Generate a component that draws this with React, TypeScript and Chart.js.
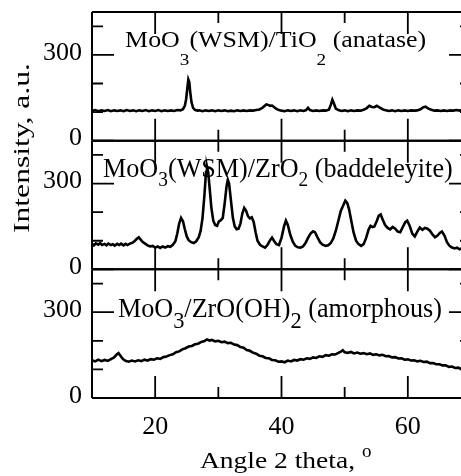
import React, { useEffect, useRef } from 'react';
import { Chart, registerables } from 'chart.js';

Chart.register(...registerables);

const FONT = '"Liberation Serif", "Times New Roman", serif';

// Axis ranges and ticks
const X_MIN = 10;
const X_MAX = 70;
const X_MAJOR = [20, 40, 60];
const X_MINOR = [30, 50];
const Y_MIN = 0;
const Y_MAX = 450;
const Y_MAJOR = [0, 300];
const Y_MINOR = [100, 200, 400];

// [2 theta, intensity]
const ANATASE: [number, number][] = [
  [10, 104], [10.5, 107], [11, 103], [11.5, 106], [12, 104], [12.5, 107], [13, 103], [13.5, 106], [14, 104], [14.5, 106],
  [15, 103], [15.5, 107], [16, 104], [16.5, 106], [17, 103], [17.5, 106], [18, 104], [18.5, 107], [19, 103], [19.5, 106],
  [20, 104], [20.5, 107], [21, 103], [21.5, 106], [22, 104], [22.5, 106], [23, 104], [23.5, 107], [24, 106], [24.4, 110],
  [24.7, 122], [24.9, 145], [25.1, 185], [25.25, 214], [25.4, 205], [25.55, 170], [25.75, 135], [26, 115], [26.3, 108], [26.7, 105],
  [27, 106], [27.5, 103], [28, 106], [28.5, 104], [29, 106], [29.5, 103], [30, 106], [30.5, 104], [31, 106], [31.5, 103],
  [32, 105], [32.5, 103], [33, 106], [33.5, 104], [34, 106], [34.5, 104], [35, 106], [35.5, 105], [36, 107], [36.5, 109],
  [37, 115], [37.3, 121], [37.6, 127], [37.9, 125], [38.2, 122], [38.5, 123], [38.8, 118], [39.2, 111], [39.6, 107], [40, 105],
  [40.5, 103], [41, 106], [41.5, 104], [42, 106], [42.5, 103], [43, 106], [43.5, 104], [43.9, 107], [44.2, 115], [44.5, 107],
  [45, 104], [45.5, 106], [46, 104], [46.5, 106], [47, 105], [47.5, 108], [47.8, 125], [48.05, 143], [48.3, 130], [48.6, 112],
  [49, 107], [49.5, 104], [50, 106], [50.5, 103], [51, 106], [51.5, 104], [52, 106], [52.5, 105], [53, 108], [53.5, 114],
  [53.9, 122], [54.3, 118], [54.7, 117], [55.1, 122], [55.5, 116], [56, 110], [56.5, 106], [57, 104], [57.5, 106], [58, 103],
  [58.5, 106], [59, 104], [59.5, 106], [60, 104], [60.5, 106], [61, 105], [61.5, 106], [62, 110], [62.4, 116], [62.8, 119],
  [63.2, 113], [63.7, 108], [64.2, 105], [64.7, 106], [65.2, 104], [65.7, 106], [66.2, 104], [66.7, 106], [67.2, 105], [67.7, 107],
  [68.2, 105], [68.7, 109], [69.2, 106], [69.6, 104], [70, 106],
];

const BADDELEYITE: [number, number][] = [
  [10, 90], [10.3, 84], [10.6, 91], [11, 86], [11.3, 92], [11.6, 85], [12, 89], [12.3, 84], [12.6, 90], [13, 85],
  [13.3, 88], [13.6, 83], [14, 89], [14.3, 85], [14.6, 90], [15, 84], [15.3, 89], [15.6, 85], [16, 90], [16.4, 93],
  [16.8, 100], [17.1, 107], [17.4, 112], [17.7, 104], [18, 96], [18.4, 90], [18.8, 84], [19.2, 80], [19.6, 82], [20, 76],
  [20.4, 80], [20.8, 75], [21.2, 80], [21.6, 76], [22, 81], [22.4, 79], [22.8, 86], [23.2, 98], [23.5, 125], [23.8, 160],
  [24.1, 180], [24.4, 168], [24.7, 140], [25, 115], [25.3, 102], [25.7, 95], [26.1, 92], [26.5, 98], [26.9, 112], [27.2, 135],
  [27.5, 180], [27.8, 260], [28.05, 340], [28.2, 360], [28.4, 340], [28.6, 290], [28.9, 215], [29.2, 170], [29.5, 155], [29.8, 152],
  [30.1, 168], [30.4, 172], [30.7, 180], [31, 230], [31.3, 290], [31.5, 313], [31.7, 300], [32, 240], [32.3, 180], [32.6, 150],
  [32.9, 140], [33.2, 142], [33.5, 160], [33.8, 195], [34.1, 215], [34.4, 205], [34.7, 185], [35, 178], [35.3, 182], [35.6, 165],
  [35.9, 130], [36.2, 100], [36.6, 86], [37, 80], [37.4, 76], [37.8, 86], [38.2, 102], [38.5, 111], [38.8, 100], [39.2, 88],
  [39.6, 85], [40, 110], [40.4, 150], [40.7, 170], [41, 155], [41.4, 120], [41.8, 96], [42.2, 82], [42.6, 77], [43, 76],
  [43.4, 80], [43.8, 92], [44.2, 110], [44.6, 125], [45, 133], [45.3, 130], [45.7, 112], [46.1, 95], [46.5, 86], [47, 82],
  [47.4, 84], [47.8, 92], [48.2, 108], [48.6, 135], [49, 170], [49.4, 205], [49.8, 225], [50.1, 240], [50.4, 232], [50.7, 210],
  [51, 175], [51.4, 130], [51.8, 100], [52.2, 88], [52.6, 82], [53, 88], [53.4, 110], [53.8, 140], [54.1, 152], [54.4, 148],
  [54.7, 150], [55.1, 170], [55.4, 188], [55.7, 192], [56, 175], [56.4, 155], [56.8, 145], [57.2, 140], [57.6, 148], [58, 142],
  [58.4, 132], [58.8, 130], [59.2, 148], [59.6, 165], [59.9, 170], [60.3, 152], [60.7, 125], [61.1, 115], [61.5, 132], [61.9, 146],
  [62.3, 138], [62.7, 145], [63.1, 142], [63.5, 135], [63.9, 122], [64.3, 112], [64.7, 118], [65.1, 128], [65.4, 132], [65.8, 118],
  [66.2, 95], [66.6, 82], [67, 76], [67.4, 73], [67.8, 76], [68.2, 70], [68.6, 74], [69, 70], [69.4, 73], [69.8, 71], [70, 72],
];

const AMORPHOUS: [number, number][] = [
  [10, 132], [10.5, 128], [11, 134], [11.5, 129], [12, 133], [12.5, 130], [13, 136], [13.5, 142], [13.9, 152], [14.2, 157],
  [14.5, 148], [14.9, 136], [15.3, 130], [15.8, 127], [16.3, 131], [16.8, 128], [17.3, 132], [17.8, 129], [18.3, 134], [18.8, 131],
  [19.3, 136], [19.8, 134], [20.3, 139], [20.8, 137], [21.3, 143], [21.8, 145], [22.3, 150], [22.8, 153], [23.3, 160], [23.8, 163],
  [24.3, 170], [24.8, 174], [25.3, 180], [25.8, 182], [26.3, 188], [26.8, 190], [27.3, 196], [27.8, 199], [28.2, 205], [28.6, 201],
  [29, 203], [29.5, 198], [30, 200], [30.5, 195], [31, 197], [31.5, 192], [32, 193], [32.5, 187], [33, 185], [33.5, 178],
  [34, 176], [34.5, 168], [35, 165], [35.5, 158], [36, 155], [36.5, 148], [37, 146], [37.5, 140], [38, 139], [38.5, 133],
  [39, 132], [39.5, 127], [40, 128], [40.5, 125], [41, 131], [41.5, 128], [42, 133], [42.5, 131], [43, 136], [43.5, 134],
  [44, 139], [44.5, 137], [45, 142], [45.5, 140], [46, 146], [46.5, 144], [47, 150], [47.5, 148], [48, 153], [48.5, 152],
  [49, 158], [49.4, 162], [49.7, 167], [50, 160], [50.5, 158], [51, 161], [51.5, 156], [52, 159], [52.5, 155], [53, 157],
  [53.5, 153], [54, 156], [54.5, 151], [55, 153], [55.5, 149], [56, 151], [56.5, 146], [57, 147], [57.5, 142], [58, 143],
  [58.5, 138], [59, 139], [59.5, 134], [60, 135], [60.5, 131], [61, 132], [61.5, 128], [62, 130], [62.5, 126], [63, 127],
  [63.5, 122], [64, 122], [64.5, 118], [65, 118], [65.5, 114], [66, 114], [66.5, 109], [67, 110], [67.5, 105], [68, 106],
  [68.5, 101], [69, 102], [69.5, 98], [70, 99],
];

type Run = { text: string; sub?: boolean };

const LABEL_TOP: Run[] = [
  { text: 'MoO' }, { text: '3', sub: true }, { text: '(WSM)/TiO' }, { text: '2', sub: true }, { text: ' (anatase)' },
];
const LABEL_MID: Run[] = [
  { text: 'MoO' }, { text: '3', sub: true }, { text: '(WSM)/ZrO' }, { text: '2', sub: true }, { text: ' (baddeleyite)' },
];
const LABEL_BOT: Run[] = [
  { text: 'MoO' }, { text: '3', sub: true }, { text: '/ZrO(OH)' }, { text: '2', sub: true }, { text: ' (amorphous)' },
];

const X_TITLE = 'Angle 2 theta,';
const X_TITLE_SUP = 'o';
const Y_TITLE = 'Intensity, a.u.';

// label placement (in data units of each panel) and type sizes
const PANELS = [
  { id: 'y3', data: AMORPHOUS, runs: LABEL_BOT, from: 14.1, to: 65.4, base: 283, size: 28, subSize: 24, subDy: 11 },
  { id: 'y2', data: BADDELEYITE, runs: LABEL_MID, from: 11.75, to: 67.1, base: 322, size: 27, subSize: 20, subDy: 8.5 },
  { id: 'y1', data: ANATASE, runs: LABEL_TOP, from: 15.24, to: 62.9, base: 328, size: 23, subSize: 17, subDy: 18 },
];

function drawRuns(
  ctx: CanvasRenderingContext2D,
  runs: Run[],
  x0: number,
  x1: number,
  baseline: number,
  size: number,
  subSize: number,
  subDy: number
) {
  let total = 0;
  const widths: number[] = [];
  for (const r of runs) {
    ctx.font = `${r.sub ? subSize : size}px ${FONT}`;
    const w = ctx.measureText(r.text).width;
    widths.push(w);
    total += w;
  }
  const sx = (x1 - x0) / total;
  ctx.save();
  ctx.translate(x0, baseline);
  ctx.scale(sx, 1);
  let x = 0;
  runs.forEach((r, i) => {
    ctx.font = `${r.sub ? subSize : size}px ${FONT}`;
    ctx.fillText(r.text, x, r.sub ? subDy : 0);
    x += widths[i];
  });
  ctx.restore();
}

const MAJOR_LEN = 22;
const MINOR_LEN = 11;

const framePlugin = {
  id: 'panelFrames',
  afterDraw(chart: any) {
    const { ctx, chartArea } = chart;
    const xs = chart.scales.x;
    const L = chartArea.left;
    const R = chartArea.right;
    ctx.save();
    ctx.strokeStyle = '#000';
    ctx.fillStyle = '#000';
    ctx.lineCap = 'butt';

    for (const p of PANELS) {
      const s = chart.scales[p.id];
      const top = s.top;
      const bot = s.bottom;
      // frame
      ctx.lineWidth = 2;
      ctx.beginPath();
      ctx.moveTo(L, top); ctx.lineTo(R, top);
      ctx.moveTo(L, bot); ctx.lineTo(R, bot);
      ctx.moveTo(L, top); ctx.lineTo(L, bot);
      ctx.moveTo(R, top); ctx.lineTo(R, bot);
      ctx.stroke();
      // ticks
      ctx.lineWidth = 1.8;
      ctx.beginPath();
      const yt = (v: number, len: number) => {
        const y = s.getPixelForValue(v);
        ctx.moveTo(L, y); ctx.lineTo(L + len, y);
        ctx.moveTo(R, y); ctx.lineTo(R - len, y);
      };
      Y_MAJOR.forEach((v) => yt(v, MAJOR_LEN));
      Y_MINOR.forEach((v) => yt(v, MINOR_LEN));
      const xt = (v: number, len: number) => {
        const x = xs.getPixelForValue(v);
        ctx.moveTo(x, top); ctx.lineTo(x, top + len);
        ctx.moveTo(x, bot); ctx.lineTo(x, bot - len);
      };
      X_MAJOR.forEach((v) => xt(v, MAJOR_LEN));
      X_MINOR.forEach((v) => xt(v, MINOR_LEN));
      ctx.stroke();
      // panel label
      ctx.textBaseline = 'alphabetic';
      ctx.textAlign = 'left';
      drawRuns(
        ctx,
        p.runs,
        xs.getPixelForValue(p.from),
        xs.getPixelForValue(p.to),
        s.getPixelForValue(p.base),
        p.size,
        p.subSize,
        p.subDy
      );
    }

    // x title
    ctx.textBaseline = 'alphabetic';
    ctx.textAlign = 'left';
    drawRuns(ctx, [{ text: X_TITLE }], L + 108, L + 263, chartArea.bottom + 70, 24, 24, 0);
    ctx.font = `19px ${FONT}`;
    ctx.fillText(X_TITLE_SUP, L + 270, chartArea.bottom + 59);

    // y title (rotated)
    ctx.save();
    ctx.translate(L - 63.5, 233);
    ctx.rotate(-Math.PI / 2);
    drawRuns(ctx, [{ text: Y_TITLE }], 0, 170, 0, 24, 24, 0);
    ctx.restore();

    ctx.restore();
  },
};

export default function App() {
  const ref = useRef<HTMLCanvasElement>(null);

  useEffect(() => {
    const canvas = ref.current;
    if (!canvas) return;

    const yAxis = () => ({
      type: 'linear' as const,
      position: 'left' as const,
      stack: 'panels',
      stackWeight: 1,
      min: Y_MIN,
      max: Y_MAX,
      grid: { display: false, drawTicks: false },
      border: { display: false },
      afterBuildTicks: (s: any) => {
        s.ticks = Y_MAJOR.map((v) => ({ value: v }));
      },
      afterFit: (s: any) => {
        s.width = 92;
        s.paddingTop = 0;
        s.paddingBottom = 0;
      },
      ticks: {
        autoSkip: false,
        padding: 10,
        labelOffset: -2,
        color: '#000',
        font: { family: FONT, size: 26 },
        callback: (v: any) => String(v),
      },
    });

    const chart = new Chart(canvas, {
      type: 'line',
      data: {
        datasets: PANELS.map((p) => ({
          data: p.data.map(([x, y]) => ({ x, y })),
          yAxisID: p.id,
          borderColor: '#000',
          borderWidth: 2.6,
          pointRadius: 0,
          tension: 0,
          fill: false,
        })),
      },
      options: {
        animation: false,
        responsive: false,
        maintainAspectRatio: false,
        devicePixelRatio: 1,
        layout: { padding: { top: 12, right: 9, left: 0, bottom: 0 } },
        plugins: { legend: { display: false }, tooltip: { enabled: false } },
        scales: {
          x: {
            type: 'linear',
            position: 'bottom',
            min: X_MIN,
            max: X_MAX,
            grid: { display: false, drawTicks: false },
            border: { display: false },
            afterBuildTicks: (s: any) => {
              s.ticks = X_MAJOR.map((v) => ({ value: v }));
            },
            afterFit: (s: any) => {
              s.height = 78;
              s.paddingLeft = 0;
              s.paddingRight = 0;
            },
            ticks: {
              autoSkip: false,
              maxRotation: 0,
              padding: 14,
              color: '#000',
              font: { family: FONT, size: 26 },
              callback: (v: any) => String(v),
            },
          },
          y3: yAxis(),
          y2: yAxis(),
          y1: yAxis(),
        } as any,
      },
      plugins: [framePlugin],
    });

    return () => chart.destroy();
  }, []);

  return (
    <div
      style={{
        position: 'fixed',
        left: 0,
        top: 0,
        width: 461,
        height: 476,
        overflow: 'hidden',
        background: '#fff',
      }}
    >
      <canvas ref={ref} width={480} height={476} style={{ display: 'block', width: 480, height: 476 }} />
    </div>
  );
}
